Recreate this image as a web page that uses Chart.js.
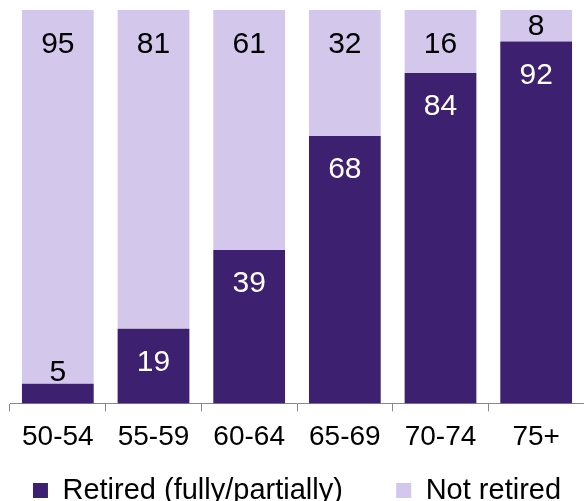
<!DOCTYPE html>
<html>
<head>
<meta charset="utf-8">
<script src="https://cdn.jsdelivr.net/npm/chart.js@4"></script>
<style>
  html, body { margin: 0; padding: 0; background: #fff; }
  #wrap { width: 584px; height: 501px; }
</style>
</head>
<body>
<div id="wrap"><canvas id="retired-chart"></canvas></div>
<script>
const ageGroups = ['50-54', '55-59', '60-64', '65-69', '70-74', '75+'];
const retired = [5, 19, 39, 68, 84, 92];
const notRetired = [95, 81, 61, 32, 16, 8];

const FONT = '"Liberation Sans", Arial, sans-serif';

// Labels sit near the top of each segment, like the original office chart
const segmentLabels = {
  id: 'segmentLabels',
  afterDatasetsDraw(chart) {
    const ctx = chart.ctx;
    ctx.save();
    ctx.font = '30px ' + FONT;
    ctx.textAlign = 'center';
    ctx.textBaseline = 'middle';
    chart.data.datasets.forEach((ds, di) => {
      chart.getDatasetMeta(di).data.forEach((bar, i) => {
        const h = bar.base - bar.y;
        let y, colour;
        if (di === 0) {
          if (h >= 50) { y = bar.y + 33; colour = '#fff'; }
          else { y = bar.y - 12; colour = '#000'; }
        } else {
          y = h >= 50 ? bar.y + 34 : (bar.y + bar.base) / 2;
          colour = '#000';
        }
        ctx.fillStyle = colour;
        ctx.fillText(String(ds.data[i]), bar.x, y + 1);
      });
    });
    ctx.restore();
  }
};

new Chart(document.getElementById('retired-chart'), {
  type: 'bar',
  data: {
    labels: ageGroups,
    datasets: [{
      label: 'Retired (fully/partially)',
      data: retired,
      backgroundColor: '#3d2070',
      categoryPercentage: 1,
      barPercentage: 0.75
    }, {
      label: 'Not retired',
      data: notRetired,
      backgroundColor: '#d4c7ec',
      categoryPercentage: 1,
      barPercentage: 0.75
    }]
  },
  options: {
    responsive: true,
    maintainAspectRatio: false,
    animation: false,
    layout: { padding: { left: 10, right: 0, top: 10, bottom: -14 } },
    scales: {
      x: {
        stacked: true,
        grid: { display: true, drawOnChartArea: false, tickLength: 8, color: '#888' },
        border: { display: true, color: '#888' },
        ticks: { color: '#000', padding: 9, font: { size: 28, family: FONT } }
      },
      y: {
        stacked: true,
        display: false,
        min: 0,
        max: 100
      }
    },
    plugins: {
      legend: {
        position: 'bottom',
        labels: {
          color: '#000',
          boxWidth: 15,
          boxHeight: 15,
          padding: 13,
          font: { size: 29, family: FONT },
          // pad the first item so the gap between entries matches the original
          generateLabels(chart) {
            const items = Chart.defaults.plugins.legend.labels.generateLabels(chart);
            items[0].text += '     ';
            items.forEach(it => { it.lineWidth = 0; });
            return items;
          }
        }
      },
      tooltip: { enabled: false }
    }
  },
  plugins: [segmentLabels]
});
</script>
</body>
</html>
